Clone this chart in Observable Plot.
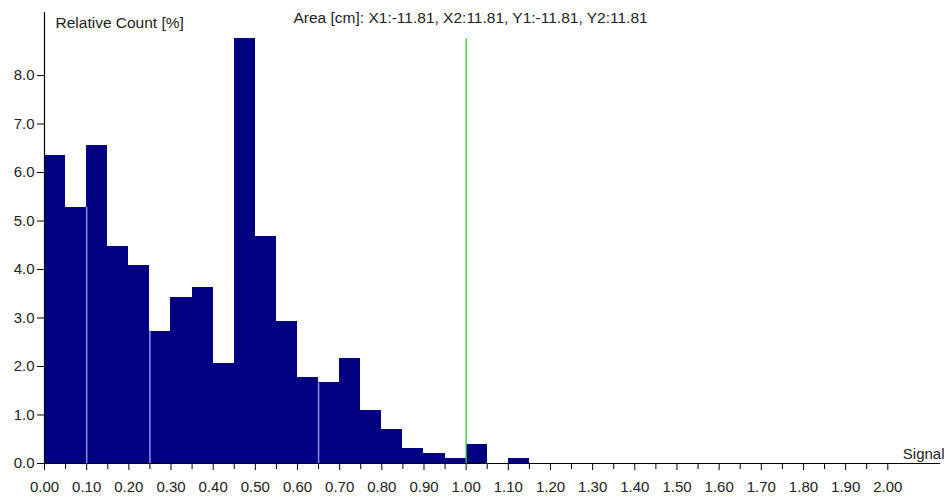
<!DOCTYPE html>
<html>
<head>
<meta charset="utf-8">
<script src="https://cdn.jsdelivr.net/npm/d3@7"></script>
<script src="https://cdn.jsdelivr.net/npm/@observablehq/plot@0.6"></script>
<style>
  html, body { margin: 0; padding: 0; background: #fff; }
  #chart svg { display: block; }
</style>
</head>
<body>
<div id="chart"></div>
<script>
// ---- data ----
const binStarts = [0.00, 0.05, 0.10, 0.15, 0.20, 0.25, 0.30, 0.35, 0.40, 0.45,
                   0.50, 0.55, 0.60, 0.65, 0.70, 0.75, 0.80, 0.85, 0.90, 0.95,
                   1.00, 1.05, 1.10];
const relCount  = [6.35, 5.28, 6.55, 4.48, 4.09, 2.73, 3.43, 3.62, 2.06, 8.76,
                   4.68, 2.93, 1.77, 1.66, 2.16, 1.10, 0.71, 0.31, 0.21, 0.11,
                   0.40, 0.00, 0.11];
const binWidth = 0.05;
const gapEdges = [0.10, 0.25, 0.65];          // light seams between bars
const markerSignal = [1.00];                  // green marker
const xMajorTicks = [0.0, 0.1, 0.2, 0.3, 0.4, 0.5, 0.6, 0.7, 0.8, 0.9, 1.0,
                     1.1, 1.2, 1.3, 1.4, 1.5, 1.6, 1.7, 1.8, 1.9, 2.0];
const xMinorTicks = [0.05, 0.15, 0.25, 0.35, 0.45, 0.55, 0.65, 0.75, 0.85, 0.95,
                     1.05, 1.15, 1.25, 1.35, 1.45, 1.55, 1.65, 1.75, 1.85, 1.95];
const yTicks = [0, 1, 2, 3, 4, 5, 6, 7, 8];
const yLabel = "Relative Count [%]";
const xLabel = "Signal";
const headerText = "Area [cm]: X1:-11.81, X2:11.81, Y1:-11.81, Y2:11.81";

// ---- derived tables ----
const bins = binStarts.map((x, i) => ({x1: x, x2: x + binWidth, y: relCount[i]}));
const countAt = (x) => {
  const i = binStarts.findIndex(b => Math.abs(b - x) < 1e-9);
  return i < 0 ? 0 : relCount[i];
};
const gaps = gapEdges.map(x => ({x, y: Math.min(countAt(x - binWidth), countAt(x))}));
const maxCount = d3.max(relCount);
const yMax = 9.3;

const font = "'Liberation Sans', Arial, sans-serif";

const chart = Plot.plot({
  width: 944,
  height: 496,
  marginLeft: 44,
  marginRight: 4,
  marginTop: 12,
  marginBottom: 33,
  style: {fontFamily: font, fontSize: "15px", color: "#222", background: "#fff"},
  x: {domain: [0, 2.125], label: null},
  y: {domain: [0, yMax], label: null},
  marks: [
    Plot.rect(bins, {x1: "x1", x2: "x2", y1: 0, y2: "y", fill: "#000080", shapeRendering: "crispEdges"}),
    Plot.ruleX(gaps, {x: "x", y1: 0, y2: "y", stroke: "#8f8ff0", strokeWidth: 1.5}),
    Plot.ruleX(markerSignal, {y1: 0, y2: maxCount, stroke: "#33c433", strokeWidth: 1.3}),
    Plot.ruleY([0], {stroke: "#000", strokeWidth: 1.2}),
    Plot.ruleX([0], {y1: 0, y2: yMax, stroke: "#000", strokeWidth: 1.2}),
    Plot.axisX({ticks: xMajorTicks, tickFormat: d => d.toFixed(2), tickSize: 7, tickPadding: 11, stroke: "#000", fontSize: 15, label: null}),
    Plot.axisX({ticks: xMinorTicks, tickFormat: () => "", tickSize: 6, stroke: "#000", label: null}),
    Plot.axisY({ticks: yTicks, tickFormat: d => d.toFixed(1), tickSize: 7, tickPadding: 3, stroke: "#000", fontSize: 15, label: null}),
    Plot.text([yLabel], {frameAnchor: "top-left", textAnchor: "start", lineAnchor: "middle", dx: 11, dy: 11, fontSize: 15.5, fill: "#222"}),
    Plot.text([headerText], {frameAnchor: "top-left", textAnchor: "start", lineAnchor: "middle", dx: 249, dy: 6, fontSize: 15.5, fill: "#222"}),
    Plot.text([xLabel], {frameAnchor: "bottom-right", textAnchor: "end", lineAnchor: "bottom", dx: 4, dy: -5, fontSize: 15, fill: "#222"})
  ]
});
document.getElementById("chart").append(chart);
</script>
</body>
</html>
